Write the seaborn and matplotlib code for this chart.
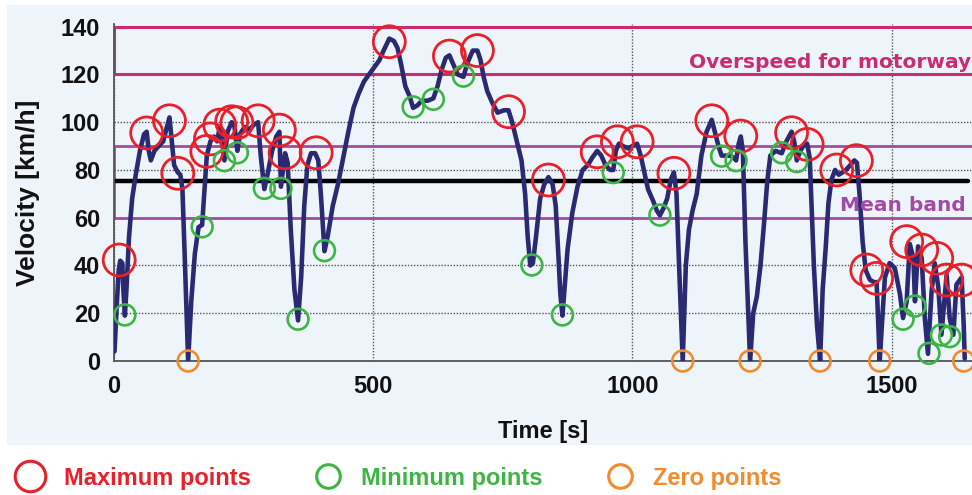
import matplotlib
matplotlib.use("Agg")
import matplotlib.pyplot as plt
import seaborn as sns
import pandas as pd
from matplotlib.patches import Rectangle
from matplotlib.lines import Line2D

# ---------------- data ----------------
time_s = [1, 5, 9, 12, 16, 18, 21, 24, 29, 35, 42, 50, 58, 63, 67, 71, 78, 86, 95, 102,
          107, 111, 116, 123, 128, 132, 137, 143, 149, 156, 163, 170, 174, 179, 186, 193,
          199, 204, 208, 213, 219, 227, 232, 238, 243, 252, 262, 270, 278, 283, 290, 296,
          305, 313, 319, 322, 326, 330, 335, 341, 348, 355, 361, 367, 373, 380, 388, 394,
          399, 406, 412, 422, 432, 442, 452, 462, 472, 482, 492, 502, 512, 520, 531, 540,
          547, 554, 562, 570, 577, 585, 594, 605, 616, 624, 632, 640, 647, 655, 663, 674,
          682, 692, 701, 707, 713, 720, 730, 740, 752, 761, 768, 777, 786, 793, 798, 803,
          808, 814, 822, 830, 838, 846, 852, 857, 861, 865, 869, 875, 884, 894, 904, 914,
          922, 932, 940, 948, 957, 963, 968, 974, 982, 992, 1000, 1009, 1016, 1023, 1030,
          1040, 1047, 1053, 1060, 1067, 1074, 1080, 1085, 1090, 1097, 1103, 1109, 1116,
          1124, 1133, 1143, 1153, 1160, 1166, 1172, 1180, 1188, 1196, 1200, 1205, 1209,
          1213, 1218, 1227, 1233, 1240, 1247, 1254, 1260, 1266, 1276, 1288, 1297, 1307,
          1312, 1317, 1324, 1332, 1337, 1342, 1350, 1356, 1362, 1367, 1373, 1378, 1384,
          1391, 1398, 1405, 1412, 1420, 1428, 1433, 1438, 1444, 1450, 1458, 1466, 1471,
          1477, 1482, 1487, 1496, 1506, 1516, 1522, 1529, 1535, 1542, 1545, 1551, 1558,
          1564, 1570, 1577, 1583, 1590, 1596, 1606, 1612, 1619, 1625, 1635, 1639, 1641]
velocity_kmh = [4, 22, 38, 42, 41, 30, 19, 30, 52, 68, 78, 88, 95, 96, 88, 84, 88, 90, 92, 98,
                102, 93, 82, 79, 78, 72, 40, 0, 25, 45, 56, 57, 70, 86, 92, 94,
                92, 98, 94, 84, 96, 100, 99, 88, 95, 98, 97, 99, 100, 86, 72, 78,
                88, 94, 96, 73, 80, 87, 83, 55, 30, 17, 35, 65, 82, 87, 87, 84,
                70, 46, 52, 65, 74, 85, 96, 106, 112, 117, 120, 123, 126, 130, 135, 134,
                131, 124, 115, 111, 106, 107, 109, 109, 110, 115, 122, 127, 128, 124, 120, 119,
                125, 130, 130, 126, 119, 113, 108, 104, 105, 105, 100, 92, 84, 70, 52, 40,
                41, 52, 68, 74, 77, 74, 65, 45, 28, 19, 30, 47, 62, 73, 80, 82,
                85, 88, 86, 82, 80, 80, 88, 91, 90, 89, 90, 91, 86, 79, 72,
                67, 63, 61, 64, 68, 76, 79, 70, 40, 0, 40, 55, 63,
                70, 86, 96, 101, 95, 90, 86, 86, 86, 85, 84, 91, 94,
                88, 50, 0, 20, 27, 40, 58, 75, 86, 88, 87, 92, 96,
                92, 84, 88, 91, 91, 85, 40, 15, 0, 30, 48, 66, 76,
                80, 78, 79, 80, 82, 84, 83, 70, 50, 38, 34, 33, 33,
                0, 18, 35, 41, 39, 28, 18, 25, 49, 43, 25, 48, 43,
                18, 3, 29, 41, 31, 11, 36, 18, 11, 32, 35, 15, 1]

max_t = [10, 63, 107, 123, 179, 186, 204, 227, 237, 278, 319, 330, 390, 531, 647, 701,
         761, 838, 932, 971, 1009, 1080, 1153, 1209, 1307, 1337, 1394, 1432, 1452, 1471,
         1529, 1558, 1587, 1606, 1635]
max_v = [42.3, 95.5, 100.6, 78.6, 87.8, 93, 98.8, 100.2, 99.8, 100.6, 96.7, 87.2, 87.2,
         133.7, 127.7, 130, 104.4, 75.8, 87.6, 91.8, 91.8, 78.6, 100.6, 94.2, 95.6, 90.7,
         80, 83.9, 38.1, 34.6, 50, 46.5, 43, 33.9, 33.9]

min_t = [21, 170, 213, 238, 290, 322, 355, 406, 577, 616, 674, 806, 865, 963, 1053,
         1172, 1200, 1288, 1317, 1522, 1545, 1572, 1596, 1612]
min_v = [19.3, 56.2, 83.9, 87.2, 72.3, 72.3, 17.5, 46.2, 106.4, 109.6, 119.3, 40.2, 19.3,
         78.9, 61.1, 85.8, 83.9, 87.2, 83.5, 17.5, 23, 3.2, 10.9, 10.2]

zero_t = [143, 1097, 1227, 1362, 1477, 1639]
zero_v = [0, 0, 0, 0, 0, 0]

x_ticks = [0, 500, 1000, 1500]
y_ticks = [0, 20, 40, 60, 80, 100, 120, 140]
mean_velocity = 75.5
mean_band = [60, 90]
overspeed_band = [120, 140]
x_range = [0, 1655]
y_range = [0, 141]

legend_labels = ["Maximum points", "Minimum points", "Zero points"]

# ---------------- style ----------------
sns.set_theme(style="white")
plt.rcParams["font.family"] = ["Liberation Sans", "DejaVu Sans"]

BG = "#eef5fa"
LINE = "#2a2a72"
RED = "#e8202a"
GREEN = "#3db544"
ORANGE = "#f28a2e"
OVER = "#cc2a72"
MEAN = "#a24aa4"
GRID = "#555555"

W, H = 972, 495
fig = plt.figure(figsize=(W / 100, H / 100), dpi=100, facecolor="white")
fig.patches.append(Rectangle((7 / W, 1 - 445 / H), 965 / W, 440 / H,
                             transform=fig.transFigure, facecolor=BG,
                             edgecolor="none", zorder=-10))

ax = fig.add_axes([114 / W, (H - 361) / H, 858 / W, 336.7 / H])
ax.set_facecolor(BG)

df = pd.DataFrame({"t": time_s, "v": velocity_kmh})

# reference bands / mean line
ax.add_patch(Rectangle((x_range[0], overspeed_band[0]), 3000,
                       overspeed_band[1] - overspeed_band[0], fill=False,
                       ec=OVER, lw=2.2, zorder=2))
ax.add_patch(Rectangle((x_range[0], mean_band[0]), 3000,
                       mean_band[1] - mean_band[0], fill=False,
                       ec=MEAN, lw=2.0, zorder=2))
ax.axhline(mean_velocity, xmin=0, xmax=0.995, color="black", lw=3.2, zorder=2)

# velocity trace
sns.lineplot(data=df, x="t", y="v", ax=ax, color=LINE, lw=3.3, sort=False,
             zorder=3, solid_joinstyle="round", solid_capstyle="round")

# characteristic points
sns.scatterplot(x=max_t, y=max_v, ax=ax, s=23 ** 2, facecolors="none",
                edgecolor=RED, linewidth=2.0, zorder=5, clip_on=False)
sns.scatterplot(x=min_t, y=min_v, ax=ax, s=15 ** 2, facecolors="none",
                edgecolor=GREEN, linewidth=1.9, zorder=5, clip_on=False)
sns.scatterplot(x=zero_t, y=zero_v, ax=ax, s=15 ** 2, facecolors="none",
                edgecolor=ORANGE, linewidth=1.9, zorder=5, clip_on=False)

# annotations
ax.text(1110, 125, "Overspeed for motorway", color=OVER, fontsize=14.5,
        fontweight="bold", family=["DejaVu Sans"], va="center", ha="left",
        clip_on=False, zorder=6)
ax.text(1400, 65, "Mean band", color=MEAN, fontsize=14.5,
        fontweight="bold", family=["DejaVu Sans"], va="center", ha="left",
        clip_on=False, zorder=6)

# axes
ax.set_xlim(*x_range)
ax.set_ylim(*y_range)
ax.set_xticks(x_ticks)
ax.set_yticks(y_ticks)
ax.grid(True, linestyle=(0, (1, 1.2)), color=GRID, lw=1.0, zorder=0)
for side in ["top", "right"]:
    ax.spines[side].set_visible(False)
for side in ["left", "bottom"]:
    ax.spines[side].set_color(GRID)
    ax.spines[side].set_linewidth(1.3)
ax.tick_params(direction="out", length=6, width=1.3, color=GRID,
               labelsize=17, pad=4, labelcolor="#111111")
for lbl in ax.get_xticklabels() + ax.get_yticklabels():
    lbl.set_fontweight("bold")

ax.set_xlabel("Time [s]", fontsize=17, fontweight="bold", color="#111111", labelpad=16)
ax.set_ylabel("Velocity [km/h]", fontsize=19, fontweight="bold", color="#111111", labelpad=15)

# legend
handles = [
    Line2D([], [], marker="o", ls="", ms=22, mfc="none", mec=RED, mew=2.2),
    Line2D([], [], marker="o", ls="", ms=17, mfc="none", mec=GREEN, mew=2.2),
    Line2D([], [], marker="o", ls="", ms=17, mfc="none", mec=ORANGE, mew=2.2),
]
leg = fig.legend(handles=handles, labels=legend_labels, loc="center left",
                 bbox_to_anchor=(15 / W, 1 - 478 / H), ncol=3, frameon=False,
                 prop=dict(weight="bold", size=17), handletextpad=0.78,
                 columnspacing=2.6, handlelength=1.3, borderaxespad=0, borderpad=0)
for txt, c in zip(leg.get_texts(), [RED, GREEN, ORANGE]):
    txt.set_color(c)

fig.savefig("out.png", dpi=100, facecolor="white")
